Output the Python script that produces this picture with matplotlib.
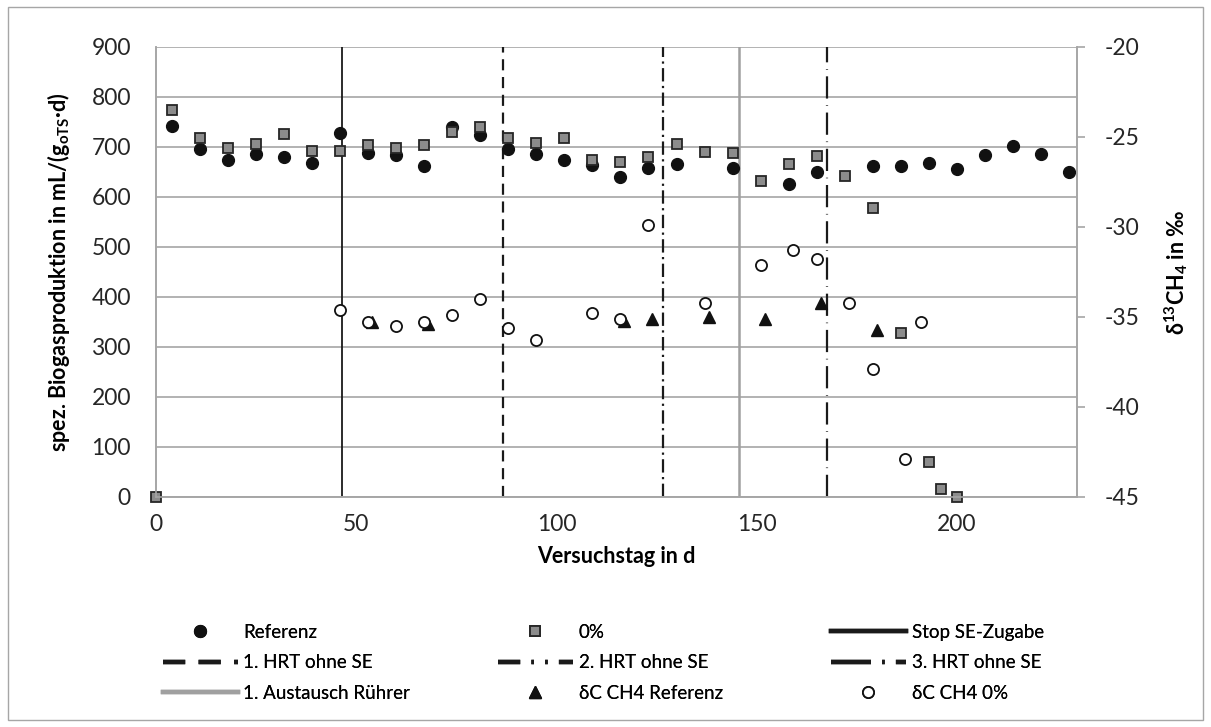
import matplotlib
matplotlib.use("Agg")
import matplotlib.pyplot as plt
from matplotlib.lines import Line2D
from matplotlib.patches import Rectangle

plt.rcParams['font.family'] = ['Lato', 'DejaVu Sans']
plt.rcParams['axes.unicode_minus'] = False
plt.rcParams['mathtext.fontset'] = 'custom'
plt.rcParams['mathtext.rm'] = 'Lato'
plt.rcParams['mathtext.bf'] = 'Lato:bold'

# spez. Biogasproduktion, Referenz-Reaktor
ref_days = [4, 11, 18, 25, 32, 39, 46, 53, 60, 67, 74, 81, 88, 95, 102, 109, 116, 123,
            130, 144, 158, 165, 179, 186, 193, 200, 207, 214, 221, 228]
ref_vals = [742, 696, 674, 686, 680, 668, 728, 688, 684, 662, 740, 724, 696, 686, 674, 664, 640, 657,
            666, 657, 625, 649, 661, 661, 668, 656, 683, 701, 686, 650]

# spez. Biogasproduktion, 0% Reaktor
zero_days = [0, 4, 11, 18, 25, 32, 39, 46, 53, 60, 67, 74, 81, 88, 95, 102, 109, 116, 123,
             130, 137, 144, 151, 158, 165, 172, 179, 186, 193, 196, 200]
zero_vals = [0, 774, 718, 698, 706, 726, 692, 692, 704, 698, 704, 730, 740, 717, 707, 717, 673, 669, 680,
             706, 690, 688, 632, 666, 681, 641, 577, 327, 70, 16, 0]

# delta 13C CH4 (rechte Achse)
dc_ref_days = [54, 68, 117, 124, 138, 152, 166, 180]
dc_ref_vals = [-35.3, -35.4, -35.2, -35.1, -35.0, -35.1, -34.2, -35.7]

dc_zero_days = [46, 53, 60, 67, 74, 81, 88, 95, 109, 116, 123, 137, 151, 159, 165, 173, 179, 187, 191]
dc_zero_vals = [-34.6, -35.3, -35.5, -35.3, -34.9, -34.0, -35.6, -36.3, -34.8, -35.1, -29.9, -34.2,
                -32.1, -31.3, -31.8, -34.2, -37.9, -42.9, -35.3]

# Ereignisse (Versuchstag)
stop_se = 46.5
hrt1 = 86.7
hrt2 = 126.7
ruehrer = 145.7
hrt3 = 167.7

grid_gray = '#a6a6a6'
sq_gray = '#8c8c8c'
dark = '#1a1a1a'

style_stop = dict(color=dark, linestyle='-')
style_hrt1 = dict(color=dark, linestyle=(0, (5, 3)))
style_hrt2 = dict(color=dark, linestyle=(0, (6, 2, 1, 2)))
style_rue = dict(color='#a0a0a0', linestyle='-')
style_hrt3 = dict(color=dark, linestyle=(0, (10, 3, 0.3, 3)))

fig = plt.figure(figsize=(12.11, 7.27), dpi=100)
ax = fig.add_axes([0.1288, 0.3164, 0.7605, 0.619])
ax2 = ax.twinx()

# vertical event lines
ax.plot([stop_se, stop_se], [0, 900], lw=1.3, zorder=2, **style_stop)
ax.plot([hrt1, hrt1], [0, 900], lw=1.6, zorder=2, **style_hrt1)
ax.plot([hrt2, hrt2], [0, 900], lw=1.6, zorder=2, **style_hrt2)
ax.plot([ruehrer, ruehrer], [0, 900], lw=1.8, zorder=2, **style_rue)
ax.plot([hrt3, hrt3], [0, 900], lw=1.6, zorder=2, **style_hrt3)

h_ref, = ax.plot(ref_days, ref_vals, 'o', color='#111111', ms=8.5, mec='#111111', zorder=3, clip_on=False)
h_zero, = ax.plot(zero_days, zero_vals, 's', color=sq_gray, ms=7.8, mec='#262626', mew=1.3, zorder=4,
                  clip_on=False)

h_dcr, = ax2.plot(dc_ref_days, dc_ref_vals, '^', color='#111111', ms=8.5, zorder=3, clip_on=False)
h_dcz, = ax2.plot(dc_zero_days, dc_zero_vals, 'o', mfc='white', mec='#111111', mew=1.3, ms=8, zorder=4,
                  clip_on=False)

ax.set_xlim(0, 230)
ax.set_ylim(0, 900)
ax.set_yticks(range(0, 901, 100))
ax.set_xticks([0, 50, 100, 150, 200])
ax2.set_ylim(-45, -20)
ax2.set_yticks([-45, -40, -35, -30, -25, -20])

ax.yaxis.grid(True, color=grid_gray, lw=1.2)
ax.set_axisbelow(True)
for a in (ax, ax2):
    a.spines['top'].set_visible(False)
    for s in ('left', 'right', 'bottom'):
        a.spines[s].set_color(grid_gray)
        a.spines[s].set_linewidth(1.2)
ax.tick_params(axis='both', length=0, labelsize=16.5, colors='#262626')
ax.tick_params(axis='y', pad=18)
ax.tick_params(axis='x', pad=12)
ax2.tick_params(axis='y', direction='out', length=6, width=1.2, color=grid_gray,
                labelsize=16.5, labelcolor='#262626', pad=14)

ax.set_xlabel('Versuchstag in d', fontsize=15.5, fontweight='bold', labelpad=8)
ax.set_ylabel('spez. Biogasproduktion in mL/(g$_\\mathbf{oTS}$·d)', fontsize=15.5,
              fontweight='bold', labelpad=14)
ax2.set_ylabel('δ$^\\mathbf{13}$CH$_\\mathbf{4}$ in ‰', fontsize=15.5, fontweight='bold',
               labelpad=16, rotation=90)

# legend proxies with thicker strokes
lg_lw = 3.2
p_stop = Line2D([], [], lw=lg_lw, **style_stop)
p_hrt1 = Line2D([], [], lw=lg_lw, color=dark, linestyle=(0, (5, 3)))
p_hrt2 = Line2D([], [], lw=lg_lw, color=dark, linestyle=(0, (5, 2.5, 0.6, 2.5, 0.6, 2.5)))
p_rue = Line2D([], [], lw=lg_lw, **style_rue)
p_hrt3 = Line2D([], [], lw=lg_lw, color=dark, linestyle=(0, (9, 2.5, 0.6, 2.5)))

# legend, three columns laid out row by row
columns = [
    [(h_ref, 'Referenz'), (p_hrt1, '1. HRT ohne SE'), (p_rue, '1. Austausch Rührer')],
    [(h_zero, '0%'), (p_hrt2, '2. HRT ohne SE'), (h_dcr, 'δC CH4 Referenz')],
    [(p_stop, 'Stop SE-Zugabe'), (p_hrt3, '3. HRT ohne SE'), (h_dcz, 'δC CH4 0%')],
]
x_pos = [0.128, 0.405, 0.680]
for xp, col in zip(x_pos, columns):
    hs = [c[0] for c in col]
    ls = [c[1] for c in col]
    leg = fig.legend(hs, ls, loc='upper left', bbox_to_anchor=(xp, 0.152), frameon=False,
                     fontsize=13.5, handlelength=4.0, handletextpad=0.3, labelspacing=0.72,
                     borderaxespad=0)
    fig.add_artist(leg)

# border around the whole chart
fig.add_artist(Rectangle((8 / 1211, 7 / 727), 1195 / 1211, 713 / 727, transform=fig.transFigure,
                         fill=False, edgecolor='#a6a6a6', lw=1.0))

fig.savefig('out.png', dpi=100)
